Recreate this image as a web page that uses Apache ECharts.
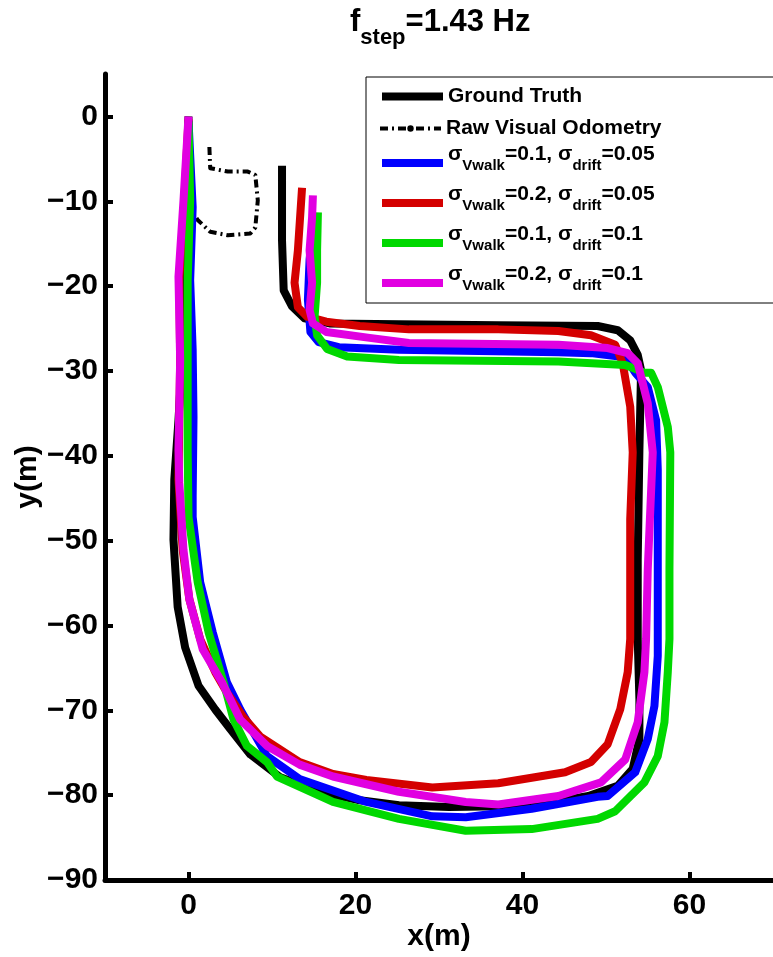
<!DOCTYPE html>
<html><head><meta charset="utf-8">
<script src="https://cdn.jsdelivr.net/npm/echarts@6/dist/echarts.min.js"></script>
<style>html,body{margin:0;padding:0;background:#fff}#c{width:773px;height:957px}</style>
</head><body><div id="c"></div>
<script>
const xTicks = [0, 20, 40, 60];
const yTicks = [-90, -80, -70, -60, -50, -40, -30, -20, -10, 0];
const seriesNames = ['Ground Truth', 'Raw Visual Odometry', 'b1', 'r1', 'g1', 'm1'];
const legendLabels = {
  'Ground Truth': '{t|Ground Truth}',
  'Raw Visual Odometry': '{t|Raw Visual Odometry}',
  'b1': '{m|σ}{s|Vwalk}{m|=0.1, σ}{s|drift}{m|=0.05}',
  'r1': '{m|σ}{s|Vwalk}{m|=0.2, σ}{s|drift}{m|=0.05}',
  'g1': '{m|σ}{s|Vwalk}{m|=0.1, σ}{s|drift}{m|=0.1}',
  'm1': '{m|σ}{s|Vwalk}{m|=0.2, σ}{s|drift}{m|=0.1}'
};
const seriesColors = ['#000000', '#000000', '#0000ff', '#d40000', '#00d800', '#e100e1'];

const groundTruth = [[0,0],[-0.1,-7.5],[-0.4,-15.8],[-0.7,-27.5],[-1.2,-35.8],[-1.7,-42.8],[-1.8,-49.9],[-1.5,-54.6],[-1.3,-57.8],[-0.4,-62.6],[1.2,-67.1],[3.2,-69.9],[5.0,-72.2],[7.4,-75.2],[11.0,-77.9],[15.7,-79.6],[20.5,-80.6],[25.2,-81.2],[31.2,-81.4],[37.1,-81.3],[44.3,-80.7],[47.9,-80.1],[51.4,-78.9],[53.2,-76.9],[54.0,-73.4],[54.0,-68.7],[53.8,-61.6],[53.8,-52.2],[54.0,-39.3],[54.2,-29.9],[53.8,-28.1],[52.9,-26.4],[51.4,-25.2],[49.0,-24.7],[37.1,-24.6],[25.2,-24.5],[16.9,-24.4],[13.9,-23.8],[12.4,-22.4],[11.4,-20.5],[11.2,-14.6],[11.2,-5.8]];
const rawVO = [[2.5,-3.6],[2.6,-6.1],[4.7,-6.5],[7.1,-6.5],[8.0,-6.9],[8.3,-9.9],[8.0,-13.1],[7.4,-13.8],[4.7,-14.0],[2.6,-13.6],[1.1,-12.2],[0.6,-11.4]];
const blueTrack = [[0,-0.5],[0.5,-10.7],[0.2,-19.3],[0.5,-27.5],[0.6,-35.4],[0.5,-44.8],[0.5,-47.2],[1.4,-54.9],[2.9,-60.8],[4.6,-66.7],[6.2,-69.9],[9.4,-75.4],[13.3,-78.1],[21.3,-80.8],[29.2,-82.5],[33.2,-82.6],[41.1,-81.6],[49.0,-80.2],[50.2,-80.1],[53.5,-77.3],[55.0,-73.4],[55.8,-69.5],[56.2,-63.6],[56.2,-53.4],[56.2,-41.6],[56.0,-35.8],[55.0,-31.9],[53.5,-30.2],[52.3,-28.4],[48.2,-27.9],[44.3,-27.8],[25.2,-27.5],[18.0,-27.2],[15.6,-26.6],[14.6,-25.4],[14.3,-21.6],[14.5,-16.9],[15.0,-11.6]];
const redTrack = [[0,-0.3],[-0.5,-9.9],[-1.1,-19.3],[-1.0,-28.7],[-1.2,-42.8],[-0.7,-51.1],[0.1,-56.9],[1.4,-61.6],[3.2,-65.5],[4.6,-67.9],[6.5,-70.7],[8.6,-73.1],[13.3,-76.1],[17.3,-77.5],[21.3,-78.2],[29.2,-79.1],[37.1,-78.6],[45.1,-77.3],[48.2,-76.1],[50.2,-74.0],[51.7,-69.9],[52.6,-65.5],[52.9,-61.6],[52.9,-53.4],[52.9,-47.5],[53.2,-39.6],[52.9,-34.2],[52.0,-29.1],[51.1,-26.9],[48.2,-25.8],[44.3,-25.3],[37.1,-25.1],[26.4,-25.1],[20.5,-24.7],[16.5,-24.2],[14.2,-23.6],[13.1,-22.5],[12.7,-19.6],[13.1,-15.8],[13.6,-8.4]];
const greenTrack = [[0,-0.6],[0.2,-9.9],[-0.1,-19.3],[-0.1,-28.7],[-0.1,-39.3],[0,-47.2],[1.1,-54.9],[2.4,-60.8],[4.2,-66.7],[5.4,-71.1],[7.0,-74.2],[9.4,-76.1],[10.6,-77.8],[17.3,-80.8],[25.2,-82.8],[33.2,-84.2],[41.1,-84.0],[49.0,-82.8],[51.1,-81.9],[54.6,-78.5],[56.2,-75.4],[57.0,-71.4],[57.4,-65.5],[57.6,-61.6],[57.6,-53.4],[57.7,-39.6],[57.4,-36.6],[56.2,-31.9],[55.4,-30.2],[54.6,-30.2],[52.3,-29.3],[44.3,-28.9],[25.2,-28.7],[19.0,-28.3],[16.6,-27.4],[15.4,-25.8],[15.1,-23.6],[15.4,-19.6],[15.4,-15.8],[15.5,-11.3]];
const magentaTrack = [[0,0],[-0.6,-9.9],[-1.2,-18.9],[-1.0,-28.7],[-1.2,-39.3],[-1.1,-43.2],[-0.6,-51.1],[0.1,-56.9],[1.7,-62.8],[4.0,-66.7],[6.2,-71.1],[9.4,-74.2],[13.3,-76.4],[17.3,-77.8],[25.2,-79.6],[33.2,-80.8],[37.1,-81.1],[44.3,-80.1],[49.4,-78.5],[52.3,-75.8],[53.8,-71.4],[54.6,-65.5],[54.8,-61.6],[55.0,-53.4],[55.6,-39.6],[55.0,-33.8],[53.8,-29.1],[52.6,-27.9],[50.2,-27.3],[44.3,-26.9],[26.4,-26.7],[21.7,-26.1],[16.5,-25.4],[14.9,-24.4],[14.5,-22.8],[14.8,-19.6],[14.5,-15.8],[14.8,-11.9],[14.9,-9.3]];

const tracks = [groundTruth, rawVO, blueTrack, redTrack, greenTrack, magentaTrack];
const FONT = '"Liberation Sans", Arial, Helvetica, sans-serif';
const dashDot = [8, 4, 2, 4];
const legendTops = [86, 118, 144, 184, 224, 264];

const chart = echarts.init(document.getElementById('c'), null, {renderer: 'canvas'});
const series = seriesNames.map((n, i) => ({
  name: n,
  type: 'line',
  data: tracks[i],
  symbol: 'none',
  showSymbol: false,
  animation: false,
  clip: false,
  lineStyle: {
    color: seriesColors[i],
    width: i === 1 ? 4 : 8,
    type: i === 1 ? dashDot : 'solid',
    join: 'round'
  },
  itemStyle: {color: seriesColors[i]}
}));

const legendRich = {
  t: {fontFamily: FONT, fontWeight: 'bold', fontSize: 21, color: '#000', lineHeight: 28},
  m: {fontFamily: FONT, fontWeight: 'bold', fontSize: 21, color: '#000', lineHeight: 13, verticalAlign: 'top'},
  s: {fontFamily: FONT, fontWeight: 'bold', fontSize: 15, color: '#000', lineHeight: 38, verticalAlign: 'top', padding: [14, 0, 0, 0]}
};
const legends = seriesNames.map((n, i) => ({
  orient: 'vertical',
  left: 378, top: legendTops[i],
  padding: 0,
  itemWidth: 61, itemHeight: 8,
  selectedMode: false,
  data: [{name: n, lineStyle: {width: i === 1 ? 4 : 8, type: i === 1 ? dashDot : 'solid', color: seriesColors[i]}}],
  formatter: v => legendLabels[v],
  textStyle: {rich: legendRich}
}));

chart.setOption({
  animation: false,
  backgroundColor: '#fff',
  title: {
    text: '{f|f}{sub|step}{f|=1.43 Hz}',
    left: 350, top: 7, padding: 0,
    textStyle: {
      rich: {
        f: {fontFamily: FONT, fontWeight: 'bold', fontSize: 31, color: '#000', verticalAlign: 'top'},
        sub: {fontFamily: FONT, fontWeight: 'bold', fontSize: 22, color: '#000', verticalAlign: 'top', padding: [20, 0, 0, 0], lineHeight: 46}
      }
    }
  },
  graphic: [{
    type: 'rect', z: 3, silent: true,
    shape: {x: 366, y: 77, width: 500, height: 226},
    style: {fill: '#fff', stroke: '#000', lineWidth: 1}
  }],
  grid: {left: 105, right: 0, top: 74, bottom: 75, containLabel: false},
  xAxis: {
    type: 'value', min: -10, max: 70,
    name: 'x(m)', nameLocation: 'middle', nameGap: 42, nameMoveOverlap: false,
    nameTextStyle: {fontFamily: FONT, fontWeight: 'bold', fontSize: 30, color: '#000'},
    axisLine: {show: true, onZero: false, lineStyle: {color: '#000', width: 5}},
    axisTick: {show: true, inside: true, length: 8, customValues: xTicks, lineStyle: {color: '#000', width: 4}},
    axisLabel: {customValues: xTicks, margin: 11, fontFamily: FONT, fontWeight: 'bold', fontSize: 30, color: '#000'},
    splitLine: {show: false}
  },
  yAxis: {
    type: 'value', min: -90, max: 5,
    name: 'y(m)', nameLocation: 'middle', nameGap: 62, nameRotate: 90, nameMoveOverlap: false,
    nameTextStyle: {fontFamily: FONT, fontWeight: 'bold', fontSize: 30, color: '#000'},
    axisLine: {show: true, onZero: false, lineStyle: {color: '#000', width: 5}},
    axisTick: {show: true, inside: true, length: 8, customValues: yTicks, lineStyle: {color: '#000', width: 4}},
    axisLabel: {customValues: yTicks, margin: 7, fontFamily: FONT, fontWeight: 'bold', fontSize: 30, color: '#000',
      formatter: v => String(v).replace('-', '\u2212')},
    splitLine: {show: false}
  },
  legend: legends,
  series: series
});
</script>
</body></html>
